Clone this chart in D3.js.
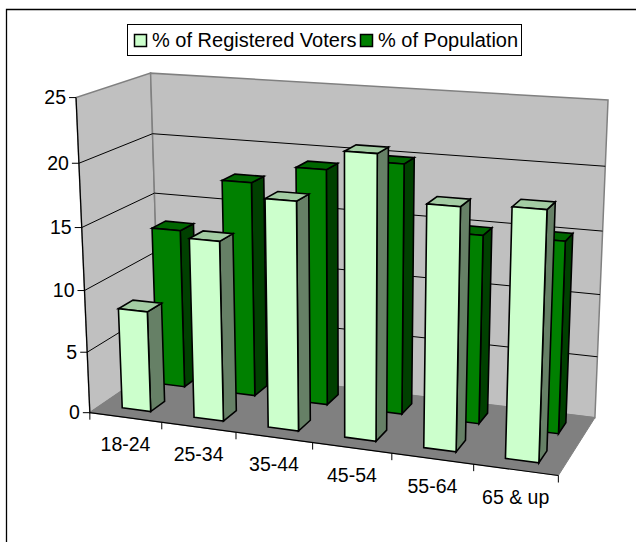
<!DOCTYPE html>
<html>
<head>
<meta charset="utf-8">
<script src="https://cdn.jsdelivr.net/npm/d3@7"></script>
<style>
  html, body { margin: 0; padding: 0; background: #fff; }
  svg { display: block; }
  text { font-family: "Liberation Sans", Arial, sans-serif; fill: #000; }
</style>
</head>
<body>
<svg id="chart" width="636" height="542"></svg>
<script>
const categories = ["18-24", "25-34", "35-44", "45-54", "55-64", "65 & up"];
const seriesNames = ["% of Registered Voters", "% of Population"];
const voters = [8.2, 14.4, 18, 22, 18.6, 18.9];
const population = [13.2, 17.6, 19.1, 20, 15, 15.1];
const valueTicks = [0, 5, 10, 15, 20, 25];

const width = 636;
const height = 542;

const frontFaces = ["#ccffcc", "#008000"];
const sideFaces = ["#668066", "#004000"];
const topFaces = ["#a3cca3", "#006600"];

// where the corners of the 3d box land on the page
// [category, value, depth] -> [px, py]
const anchors = [
    [[0, 0, 0], [89.3, 413.3]],
    [[6, 0, 0], [558.3, 475]],
    [[6, 0, 1], [595, 418.3]],
    [[0, 0, 1], [160.5, 364]],
    [[0, 25, 0], [76.7, 97.3]],
    [[0, 25, 1], [150, 73.3]],
    [[6, 25, 1], [608.3, 100]],
    [[0, 15, 0], [81.7, 227.7]],
    [[6, 15, 1], [602.3, 231]],
    [[0, 15, 1], [154.3, 193.3]],
];

// least squares fit of a projective camera through the anchors
function solveCamera(points) {
    const A = [];
    const b = [];
    points.forEach(([[u, v, w], [px, py]]) => {
        A.push([u, v, w, 1, 0, 0, 0, 0, -px * u, -px * v, -px * w]);
        b.push(px);
        A.push([0, 0, 0, 0, u, v, w, 1, -py * u, -py * v, -py * w]);
        b.push(py);
    });
    const n = 11;
    const M = d3.range(n).map((i) => {
        const row = d3.range(n).map((j) => d3.sum(A, (r) => r[i] * r[j]));
        row.push(d3.sum(A, (r, k) => r[i] * b[k]));
        return row;
    });
    for (let i = 0; i < n; ++i) {
        let p = i;
        for (let r = i + 1; r < n; ++r) {
            if (Math.abs(M[r][i]) > Math.abs(M[p][i])) p = r;
        }
        [M[i], M[p]] = [M[p], M[i]];
        for (let r = 0; r < n; ++r) {
            if (r === i) continue;
            const f = M[r][i] / M[i][i];
            for (let c = i; c <= n; ++c) M[r][c] -= f * M[i][c];
        }
    }
    return M.map((row, i) => row[n] / row[i]);
}

const cam = solveCamera(anchors);

function project(u, v, w) {
    const d = cam[8] * u + cam[9] * v + cam[10] * w + 1;
    return [
        (cam[0] * u + cam[1] * v + cam[2] * w + cam[3]) / d,
        (cam[4] * u + cam[5] * v + cam[6] * w + cam[7]) / d,
    ];
}

const x = d3.scaleBand().domain(categories).range([0, 6]).paddingInner(0).paddingOuter(0);
const z = d3.scaleBand().domain(seriesNames).range([0, 1]);
const barLeft = 0.3;
const barRight = 0.7;
const barDepth = 0.4;

const line = d3.line();
const svg = d3.select("#chart");

// outer frame, only top and left show in the window
svg.append("path")
    .attr("d", `M6.5,${height}V9.5H${width}`)
    .attr("fill", "none")
    .attr("stroke", "#000")
    .attr("stroke-width", 1.3);

function face(g, pts, fill, stroke, sw) {
    g.append("path")
        .attr("d", line(pts.map((p) => project(p[0], p[1], p[2]))) + "Z")
        .attr("fill", fill)
        .attr("stroke", stroke)
        .attr("stroke-width", sw)
        .attr("stroke-linejoin", "miter");
}

// walls and floor
const walls = svg.append("g").attr("class", "walls");
face(walls, [[0, 0, 0], [0, 25, 0], [0, 25, 1], [0, 0, 1]], "#c0c0c0", "#808080", 1.5);
face(walls, [[0, 0, 1], [0, 25, 1], [6, 25, 1], [6, 0, 1]], "#c0c0c0", "#808080", 1.5);
face(walls, [[0, 0, 0], [6, 0, 0], [6, 0, 1], [0, 0, 1]], "#808080", "#808080", 1);

// gridlines run along both walls
const grid = svg.append("g").attr("class", "grid");
valueTicks.filter((d) => d > 0 && d < 25).forEach((t) => {
    grid.append("path")
        .attr("d", line([project(0, t, 0), project(0, t, 1), project(6, t, 1)]))
        .attr("fill", "none")
        .attr("stroke", "#000")
        .attr("stroke-width", 1);
});

// the floor's front edge and the value axis
const axis = svg.append("g").attr("class", "axis");
axis.append("path")
    .attr("d", line([project(0, 25, 0), project(0, 0, 0)]))
    .attr("stroke", "#000").attr("stroke-width", 1.2).attr("fill", "none");
axis.append("path")
    .attr("d", line([project(0, 0, 0), project(6, 0, 0)]))
    .attr("stroke", "#000").attr("stroke-width", 1.2).attr("fill", "none");

valueTicks.forEach((t) => {
    const p = project(0, t, 0);
    axis.append("line")
        .attr("x1", p[0] - 7).attr("x2", p[0])
        .attr("y1", p[1]).attr("y2", p[1])
        .attr("stroke", "#000").attr("stroke-width", 1);
    axis.append("text")
        .attr("x", p[0] - 10)
        .attr("y", p[1] + 6.5)
        .attr("text-anchor", "end")
        .attr("font-size", 19.5)
        .text(t);
});

// ticks between categories and their labels
d3.range(0, 7).forEach((i) => {
    const p = project(i, 0, 0);
    axis.append("line")
        .attr("x1", p[0]).attr("x2", p[0])
        .attr("y1", p[1]).attr("y2", p[1] + 7)
        .attr("stroke", "#000").attr("stroke-width", 1);
});
categories.forEach((c) => {
    const p = project(x(c) + x.bandwidth() / 2, 0, 0);
    axis.append("text")
        .attr("x", p[0])
        .attr("y", p[1] + 34)
        .attr("text-anchor", "middle")
        .attr("font-size", 19.5)
        .text(c);
});

// bars, back row first then front row
const bars = svg.append("g").attr("class", "bars");
[population, voters].forEach((values) => {
    const s = values === voters ? 0 : 1;
    values.forEach((val, i) => {
        const c = categories[i];
        const u0 = x(c) + barLeft * x.bandwidth();
        const u1 = x(c) + barRight * x.bandwidth();
        const w0 = z(seriesNames[s]) + (1 - barDepth) / 2 * z.bandwidth();
        const w1 = w0 + barDepth * z.bandwidth();
        const g = bars.append("g");
        face(g, [[u1, 0, w0], [u1, val, w0], [u1, val, w1], [u1, 0, w1]], sideFaces[s], "#000", 1.6);
        face(g, [[u0, val, w0], [u1, val, w0], [u1, val, w1], [u0, val, w1]], topFaces[s], "#000", 1.6);
        face(g, [[u0, 0, w0], [u1, 0, w0], [u1, val, w0], [u0, val, w0]], frontFaces[s], "#000", 1.6);
    });
});

// legend
const legend = svg.append("g").attr("class", "legend");
legend.append("rect")
    .attr("x", 127.5).attr("y", 24.5)
    .attr("width", 394).attr("height", 31)
    .attr("fill", "#fff").attr("stroke", "#000").attr("stroke-width", 1);
const legendX = [134.5, 360.5];
seriesNames.forEach((name, i) => {
    legend.append("rect")
        .attr("x", legendX[i]).attr("y", 34.5)
        .attr("width", 12).attr("height", 12)
        .attr("fill", frontFaces[i]).attr("stroke", "#000").attr("stroke-width", 1.5);
    legend.append("text")
        .attr("x", legendX[i] + 17.5)
        .attr("y", 46.5)
        .attr("font-size", 20)
        .text(name);
});
</script>
</body>
</html>
